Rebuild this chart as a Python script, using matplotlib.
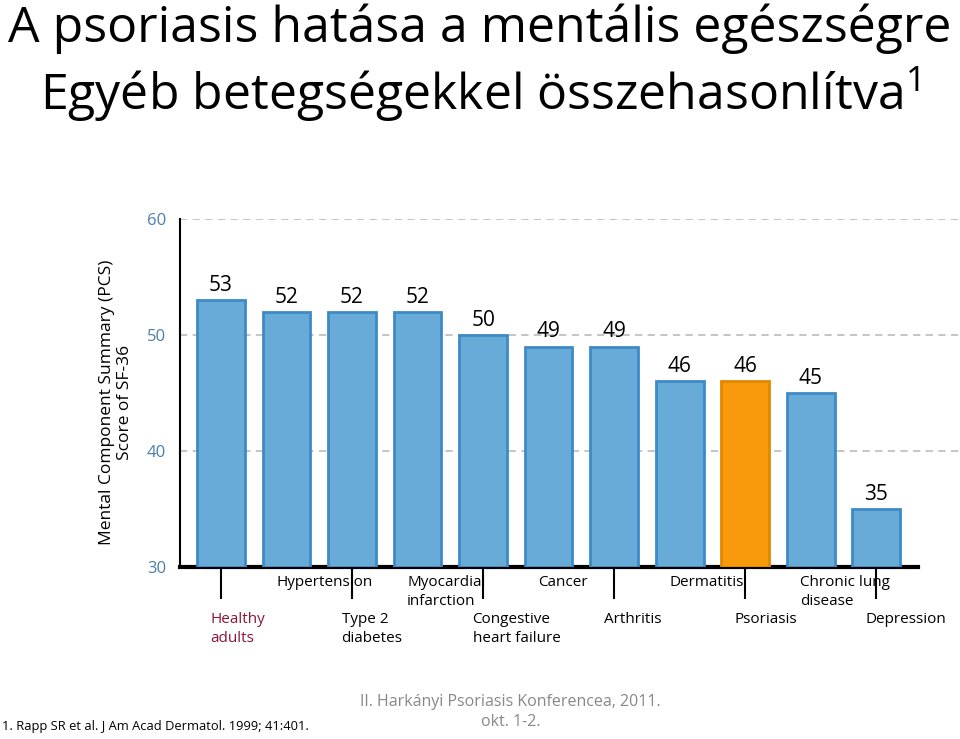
import matplotlib.pyplot as plt

categories = ["Healthy\nadults", "Hypertension", "Type 2\ndiabetes", "Myocardial\ninfarction",
              "Congestive\nheart failure", "Cancer", "Arthritis", "Dermatitis",
              "Psoriasis", "Chronic lung\ndisease", "Depression"]
values = [53, 52, 52, 52, 50, 49, 49, 46, 46, 45, 35]
highlight = "Psoriasis"
yticks = [30, 40, 50, 60]

plt.rcParams['font.family'] = ['Open Sans', 'DejaVu Sans']
plt.rcParams['mathtext.fontset'] = 'custom'
plt.rcParams['mathtext.rm'] = 'Open Sans'

fig = plt.figure(figsize=(9.6, 7.39), dpi=100)
ax = fig.add_axes([0.1875, 0.2327, 0.8125, 0.471])

x = list(range(len(values)))
fills = ['#f7990b' if c == highlight else '#68aad8' for c in categories]
edges = ['#e08800' if c == highlight else '#3c8ac6' for c in categories]
ax.bar(x, [v - 30 for v in values], bottom=30, width=0.73, color=fills,
       edgecolor=edges, linewidth=2, zorder=3)

for xi, v in zip(x, values):
    ax.annotate(str(v), (xi, v), xytext=(0, 3), textcoords='offset points',
                ha='center', va='bottom', fontsize=15, color='black')

ax.set_xlim(-0.626, 11.28)
ax.set_ylim(30, 60)
ax.set_yticks(yticks)
ax.tick_params(axis='y', length=0, labelsize=12, labelcolor='#4a7fac', pad=10)
for t in yticks[1:]:
    ax.axhline(t, color='#c0c0c0', linestyle=(0, (4, 3)), linewidth=1.3, zorder=1)

ax.spines['top'].set_visible(False)
ax.spines['right'].set_visible(False)
ax.spines['left'].set_linewidth(1.5)
ax.spines['bottom'].set_linewidth(3)
ax.spines['bottom'].set_bounds(-0.626, 10.64)

ax.set_xticks(x[::2])
ax.set_xticklabels([])
ax.tick_params(axis='x', length=23, width=1.5, direction='out', color='black')

tr = ax.get_xaxis_transform()
for i, c in enumerate(categories):
    col = '#8b1538' if i == 0 else 'black'
    y = -0.024 if i % 2 == 1 else -0.13
    ax.text(i - 0.16, y, c, transform=tr, ha='left', va='top', fontsize=11,
            color=col, linespacing=1.35)

ax.set_ylabel("Mental Component Summary (PCS)\nScore of SF-36", fontsize=12.5,
              labelpad=10, linespacing=1.15)
ax.yaxis.label.set_y(0.474)

fig.text(0.5, 0.943, "A psoriasis hatása a mentális egészségre", ha='center', va='baseline',
         fontsize=36, color='black')
fig.text(0.5, 0.851, r"Egyéb betegségekkel összehasonlítva$^{\mathrm{1}}$", ha='center',
         va='baseline', fontsize=36, color='black')

fig.text(0.002, 0.008, "1. Rapp SR et al. J Am Acad Dermatol. 1999; 41:401.",
         ha='left', va='bottom', fontsize=9.3)
fig.text(0.532, 0.012, "II. Harkányi Psoriasis Konferencea, 2011.\nokt. 1-2.",
         ha='center', va='bottom', fontsize=11.5, color='#888888', linespacing=1.35)

fig.savefig("out.png", dpi=100)
